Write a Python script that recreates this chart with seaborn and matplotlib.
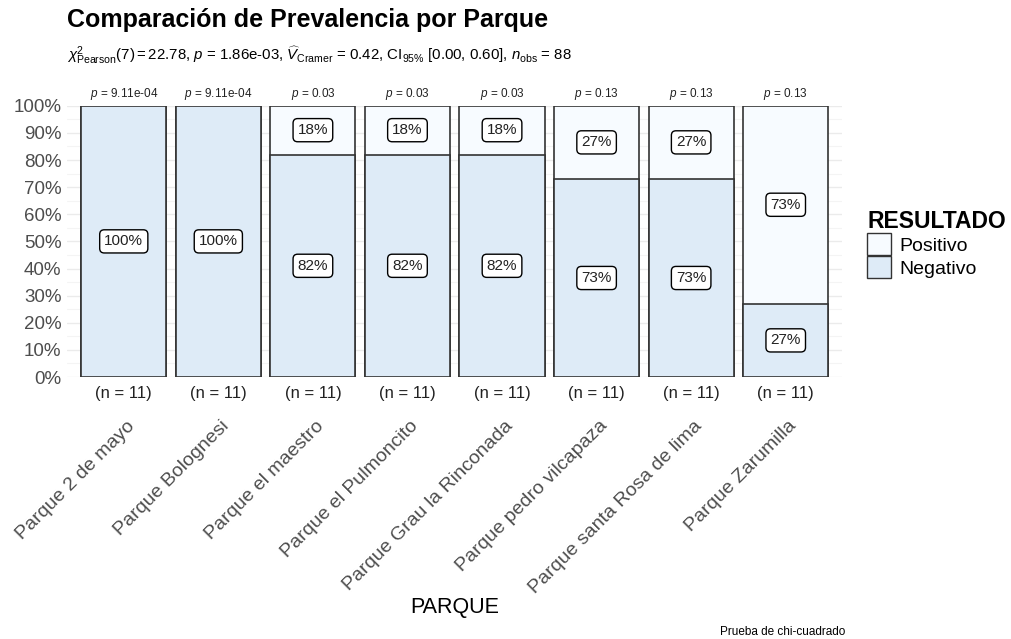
import matplotlib
matplotlib.use("Agg")
import matplotlib.pyplot as plt
import seaborn as sns
import pandas as pd
from matplotlib.patches import Patch
from matplotlib.transforms import ScaledTranslation

##############################################
### DATA #####################################
##############################################

parques = ["Parque 2 de mayo", "Parque Bolognesi", "Parque el maestro",
           "Parque el Pulmoncito", "Parque Grau la Rinconada",
           "Parque pedro vilcapaza", "Parque santa Rosa de lima",
           "Parque Zarumilla"]
negativo_pct = [100, 100, 82, 82, 82, 73, 73, 27]
positivo_pct = [0, 0, 18, 18, 18, 27, 27, 73]
p_values = ["9.11e-04", "9.11e-04", "0.03", "0.03", "0.03", "0.13", "0.13", "0.13"]
n_por_parque = [11, 11, 11, 11, 11, 11, 11, 11]

titulo = "Comparación de Prevalencia por Parque"
subtitulo = (r"$\chi^2_{\mathrm{Pearson}}(7) = 22.78$, $\mathit{p}$ = 1.86e-03, "
             r"$\widehat{V}_{\mathrm{Cramer}}$ = 0.42, CI$_{95\%}$ [0.00, 0.60], "
             r"$\mathit{n}_{\mathrm{obs}}$ = 88")

color_neg = "#DEEBF7"
color_pos = "#F7FBFF"

##############################################
### PLOT #####################################
##############################################

sns.set_style("white")
plt.rcParams["font.family"] = ["Liberation Sans", "DejaVu Sans"]
plt.rcParams["text.color"] = "black"
plt.rcParams["mathtext.fontset"] = "custom"
plt.rcParams["mathtext.rm"] = "Liberation Sans"
plt.rcParams["mathtext.it"] = "Liberation Sans:italic"
plt.rcParams["mathtext.bf"] = "Liberation Sans:bold"

df = pd.DataFrame({
    "PARQUE": parques,
    "Negativo": [v / 100 for v in negativo_pct],
    "Positivo": [v / 100 for v in positivo_pct],
})
df["Total"] = df["Negativo"] + df["Positivo"]

fig = plt.figure(figsize=(10.11, 6.39), dpi=100)
ax = fig.add_axes([0.0663, 0.41, 0.767, 0.4245])

# stacked bars: full height first (Positivo colour), Negativo over it
sns.barplot(data=df, x="PARQUE", y="Total", color=color_pos, width=0.9,
            edgecolor="#333333", linewidth=1.2, saturation=1, ax=ax)
sns.barplot(data=df, x="PARQUE", y="Negativo", color=color_neg, width=0.9,
            edgecolor="#333333", linewidth=1.2, saturation=1, ax=ax)

ax.set_xlim(-0.6, len(parques) - 0.4)
ax.set_ylim(0, 1)
ax.set_yticks([i / 10 for i in range(11)])
ax.set_yticklabels([f"{i * 10}%" for i in range(11)])
ax.set_yticks([i / 10 + 0.05 for i in range(10)], minor=True)
ax.grid(axis="y", which="major", color="#EBEBEB", linewidth=1.0)
ax.grid(axis="y", which="minor", color="#F4F4F4", linewidth=0.8)
ax.set_axisbelow(True)
for s in ax.spines.values():
    s.set_visible(False)

ax.tick_params(axis="y", labelsize=13.5, labelcolor="#4D4D4D", length=0, pad=4)
ax.tick_params(axis="x", labelsize=14, labelcolor="#4D4D4D", length=0, pad=29)
for lbl in ax.get_xticklabels():
    lbl.set_rotation(45)
    lbl.set_ha("right")
    lbl.set_va("top")
    lbl.set_rotation_mode("anchor")
    lbl.set_transform(lbl.get_transform() + ScaledTranslation(0.02, 0, fig.dpi_scale_trans))

ax.set_xlabel("PARQUE", fontsize=15.5, color="black", labelpad=0)
ax.set_ylabel("")

# percent labels inside segments
box = dict(boxstyle="round,pad=0.3,rounding_size=0.3", facecolor="white",
           edgecolor="black", linewidth=1.0)
for i in range(len(parques)):
    neg = df["Negativo"][i]
    pos = df["Positivo"][i]
    if negativo_pct[i] > 0:
        ax.text(i, neg / 2, f"{negativo_pct[i]}%", ha="center", va="center",
                fontsize=11, color="#222222", bbox=box)
    if positivo_pct[i] > 0:
        ax.text(i, neg + pos / 2, f"{positivo_pct[i]}%", ha="center", va="center",
                fontsize=11, color="#222222", bbox=box)
    ax.text(i, 1.045, r"$\mathit{p}$ = " + p_values[i], ha="center", va="center",
            fontsize=8.5, color="#222222", clip_on=False)
    ax.text(i, -0.062, f"(n = {n_por_parque[i]})", ha="center", va="center",
            fontsize=12, color="#222222", clip_on=False)

# legend
handles = [Patch(facecolor=color_pos, edgecolor="#333333", linewidth=1.0),
           Patch(facecolor=color_neg, edgecolor="#333333", linewidth=1.0)]
leg = fig.legend(handles, ["Positivo", "Negativo"], title="RESULTADO",
                 loc="upper left", bbox_to_anchor=(0.858, 0.672), frameon=False,
                 fontsize=14, title_fontsize=16.5, handlelength=1.2,
                 handleheight=1.4, handletextpad=0.45, labelspacing=0.02,
                 borderaxespad=0, borderpad=0)
leg.get_title().set_fontweight("bold")
leg._legend_box.align = "left"

fig.text(0.0663, 0.957, titulo, fontsize=18, fontweight="bold", ha="left", va="baseline")
fig.text(0.0663, 0.906, subtitulo, fontsize=10.8, ha="left", va="baseline")
fig.text(0.836, 0.006, "Prueba de chi-cuadrado", fontsize=8.5, ha="right", va="baseline")

fig.savefig("out.png", dpi=100)
